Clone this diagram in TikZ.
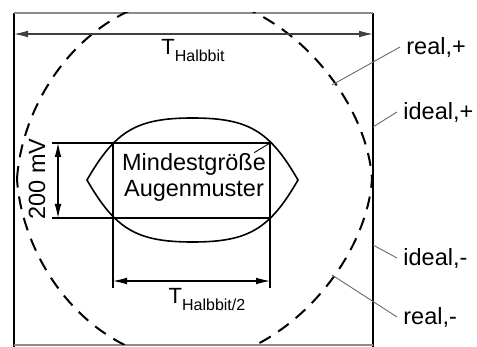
\documentclass[tikz,border=0pt]{standalone}
\usepackage{fontspec}
\setmainfont{Liberation Sans}
\usetikzlibrary{arrows.meta}
\definecolor{LeaderGrey}{HTML}{6A6A6A}
\definecolor{FrameGrey}{HTML}{8C8C8C}
\newcommand{\halbbit}[1]{T\raisebox{-3.5pt}{\fontsize{8}{9}\selectfont #1}}

\begin{document}
\begin{tikzpicture}[x=0.5pt,y=-0.5pt,
    lbl/.style={font=\fontsize{11.75}{13}\selectfont,inner sep=0pt},
    tag/.style={lbl,anchor=west,inner xsep=3pt},
    leader/.style={LeaderGrey,line width=0.45pt},
    dim/.style={line width=0.55pt,{Latex[length=7pt,width=3.4pt]}-{Latex[length=7pt,width=3.4pt]}},
    eye/.style={line width=1pt,dash pattern=on 6.5pt off 4.5pt}]
  \useasboundingbox (0,0) rectangle (477,347);
  % frame
  \draw[line width=1pt] (14,13) -- (14,347);
  \draw[line width=1pt] (373,13) -- (373,347);
  \draw[FrameGrey,line width=0.6pt] (14,13) -- (373,13);
  \draw[FrameGrey,line width=0.6pt] (14,345) -- (373,345);
  % real eye (dashed), cut at the frame
  \begin{scope}
    \clip (14,13) rectangle (373,345);
    \draw[eye] (17,179) .. controls (22,100) and (85,0) .. (194.5,-5)
      .. controls (289,3) and (367,100) .. (372,179)
      .. controls (367,258) and (289,355) .. (194.5,363)
      .. controls (85,358) and (22,258) .. (17,179);
  \end{scope}
  % minimum eye
  \draw[line width=0.8pt] (87,180) to[out=60,in=180,looseness=1.18] (192.5,118)
    to[out=0,in=120,looseness=1.18] (298,180)
    to[out=-120,in=0,looseness=1.18] (192.5,242)
    to[out=180,in=-60,looseness=1.18] cycle;
  % mask lines
  \coordinate (tl) at (113,143);
  \coordinate (tr) at (270,143);
  \coordinate (bl) at (113,218);
  \coordinate (br) at (270,218);
  \coordinate (mvTop) at (58,143);
  \coordinate (mvBot) at (58,218);
  \coordinate (hbL) at (14,34);
  \coordinate (hbR) at (373,34);
  \coordinate (hbHalfL) at (113,281);
  \coordinate (hbHalfR) at (270,281);
  \draw[line width=0.6pt] (52,143) -- (tr) -- (270,288);
  \draw[line width=0.6pt] (52,218) -- (br);
  \draw[line width=0.6pt] (tl) -- (113,288);
  \draw[dim] (mvTop) -- (mvBot);
  \draw[dim,black!75] (hbL) -- (hbR);
  \draw[dim] (hbHalfL) -- (hbHalfR);
  % labels
  \node[lbl,font=\fontsize{11}{13}\selectfont] (thb) at (193,51) {\halbbit{Halbbit}};
  \node[lbl,font=\fontsize{11}{13}\selectfont] (thbHalf) at (207,300) {\halbbit{Halbbit/2}};
  \node[lbl,rotate=90] (mv) at (37,179) {200 mV};
  \node[lbl,align=center] (mind) at (194,177) {Mindestgröße\\Augenmuster};
  \draw[leader,black] ([xshift=-6pt]mind.north east) -- (tr);
  % curve names
  \node[tag] (realP) at (400,47) {real,+};
  \node[tag] (idealP) at (397,112) {ideal,+};
  \node[tag] (idealM) at (397,258) {ideal,-};
  \node[tag] (realM) at (397,317) {real,-};
  \coordinate (realPEnd) at (332,85);
  \coordinate (idealPEnd) at (373,127);
  \coordinate (idealMEnd) at (373,245);
  \coordinate (realMEnd) at (332,275);
  \draw[leader] (realP.west) -- (realPEnd);
  \draw[leader] (idealP.west) -- (idealPEnd);
  \draw[leader] (idealM.west) -- (idealMEnd);
  \draw[leader] (realM.west) -- (realMEnd);
\end{tikzpicture}
\end{document}
